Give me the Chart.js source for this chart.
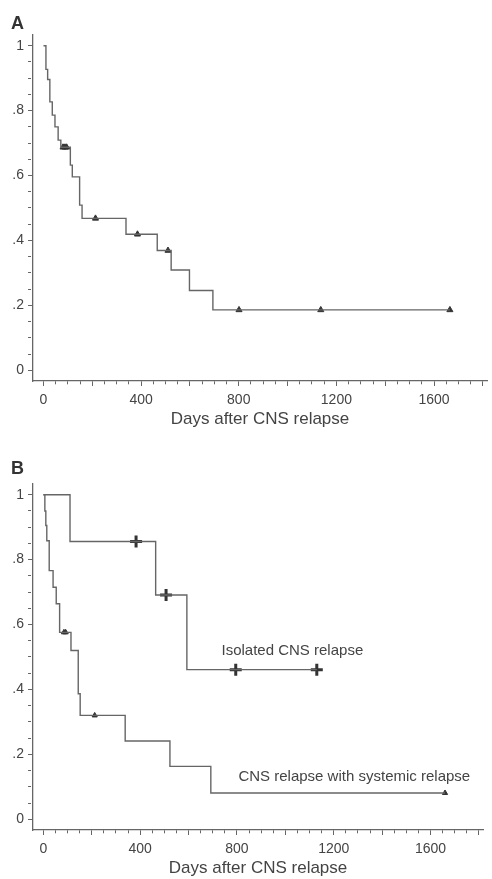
<!DOCTYPE html>
<html>
<head>
<meta charset="utf-8">
<script src="https://cdn.jsdelivr.net/npm/chart.js@4.4.1/dist/chart.umd.min.js"></script>
<style>
  html, body { margin: 0; padding: 0; background: #fff; }
  body { width: 492px; height: 879px; position: relative; overflow: hidden; font-family: "Liberation Sans", Arial, sans-serif; }
  .panel { position: absolute; left: 0; width: 492px; height: 430px; }
  .letter { position: absolute; left: 11px; font-weight: bold; font-size: 18px; color: #333; }
</style>
</head>
<body>
<div class="panel" style="top:0"><canvas id="chartA" width="492" height="430"></canvas></div>
<div class="letter" style="top:13px">A</div>
<div class="panel" style="top:449px"><canvas id="chartB" width="492" height="430"></canvas></div>
<div class="letter" style="top:458px">B</div>
<script>
// axis ticks
const xMajor = [0, 400, 800, 1200, 1600];
const yMajor = [0, 0.2, 0.4, 0.6, 0.8, 1];
const yMajorLabels = ['0', '.2', '.4', '.6', '.8', '1'];

// panel A - all patients (day of each step, survival after it)
const daysA = [0, 10, 17, 26, 36, 47, 60, 71, 110, 118, 148, 158, 338, 466, 523, 598, 694, 1665];
const survA = [1, 0.927, 0.896, 0.827, 0.786, 0.75, 0.709, 0.687, 0.632, 0.596, 0.509, 0.468, 0.419, 0.369, 0.309, 0.246, 0.186, 0.186];
const censorA = [80, 88, 95, 213, 385, 510, 801, 1136, 1665];

// panel B - isolated CNS relapse
const daysIso = [0, 110, 464, 593, 1130];
const survIso = [1, 0.856, 0.691, 0.461, 0.461];
const censorIso = [383, 507, 795, 1130];

// panel B - CNS relapse with systemic relapse
const daysSys = [0, 6, 10, 14, 24, 40, 53, 67, 114, 144, 152, 338, 523, 692, 1660];
const survSys = [1, 0.95, 0.905, 0.858, 0.766, 0.715, 0.664, 0.576, 0.52, 0.387, 0.32, 0.241, 0.163, 0.081, 0.081];
const censorSys = [85, 92, 212, 1660];

const FONT = '"Liberation Sans", Arial, sans-serif';
Chart.defaults.font.family = FONT;

function survivalAt(days, surv, t) {
    let s = surv[0];
    for (let i = 0; i < days.length; i++) {
        if (days[i] <= t) s = surv[i];
    }
    return s;
}

function curve(days, surv) {
    return {
        data: days.map((d, i) => ({x: d, y: surv[i]})),
        showLine: true,
        stepped: 'before',
        borderColor: '#666',
        borderWidth: 1.4,
        pointRadius: 0,
        fill: false,
    };
}

function censors(days, surv, times, style, radius, width) {
    return {
        data: times.map(t => ({x: t, y: survivalAt(days, surv, t)})),
        showLine: false,
        pointStyle: style,
        pointRadius: radius,
        pointBorderWidth: width,
        pointBackgroundColor: '#333',
        pointBorderColor: '#333',
    };
}

const curveLabels = {
    id: 'curveLabels',
    afterDatasetsDraw(chart, args, opts) {
        const {ctx, scales: {x, y}} = chart;
        ctx.save();
        ctx.font = '15px ' + FONT;
        ctx.fillStyle = '#444';
        ctx.textAlign = 'center';
        ctx.textBaseline = 'middle';
        (opts.items || []).forEach(it => {
            ctx.fillText(it.text, x.getPixelForValue(it.x), y.getPixelForValue(it.y));
        });
        ctx.restore();
    }
};

function makeChart(id, datasets, labels) {
    return new Chart(document.getElementById(id), {
        type: 'scatter',
        data: {datasets: datasets},
        plugins: [curveLabels],
        options: {
            responsive: false,
            animation: false,
            events: [],
            layout: {padding: {top: 35, right: 1, bottom: 0, left: 0}},
            plugins: {
                legend: {display: false},
                tooltip: {enabled: false},
                curveLabels: {items: labels},
            },
            scales: {
                x: {
                    type: 'linear',
                    min: -43,
                    max: 1817,
                    afterBuildTicks: s => {
                        s.ticks = [];
                        for (let v = 0; v <= 1800; v += 50) s.ticks.push({value: v});
                    },
                    afterFit: s => { s.height = 49; },
                    ticks: {
                        autoSkip: false,
                        maxRotation: 0,
                        padding: 6,
                        color: '#444',
                        font: {size: 14},
                        callback: v => xMajor.includes(v) ? String(v) : '',
                    },
                    grid: {
                        drawOnChartArea: false,
                        tickLength: 5,
                        tickColor: '#666',
                        tickWidth: 1,
                        tickBorderDash: c => (c.tick && c.tick.value % 200 === 0) ? [] : [3, 20],
                    },
                    border: {color: '#666', width: 1.3},
                    title: {
                        display: true,
                        text: 'Days after CNS relapse',
                        color: '#444',
                        font: {size: 17},
                        padding: {top: 0, bottom: 0},
                    },
                },
                y: {
                    type: 'linear',
                    min: -0.033,
                    max: 1.033,
                    afterBuildTicks: s => {
                        s.ticks = [];
                        for (let k = 0; k <= 20; k++) s.ticks.push({value: k / 20});
                    },
                    afterFit: s => { s.width = 33; },
                    ticks: {
                        autoSkip: false,
                        padding: 4,
                        color: '#444',
                        font: {size: 14},
                        callback: v => {
                            const i = yMajor.findIndex(m => Math.abs(m - v) < 1e-6);
                            return i >= 0 ? yMajorLabels[i] : '';
                        },
                    },
                    grid: {
                        drawOnChartArea: false,
                        tickLength: 5,
                        tickColor: '#666',
                        tickWidth: 1,
                        tickBorderDash: c => (c.tick && Math.round(c.tick.value * 20) % 4 === 0) ? [] : [3, 20],
                    },
                    border: {color: '#666', width: 1.3},
                },
            },
        },
    });
}

makeChart('chartA', [
    curve(daysA, survA),
    censors(daysA, survA, censorA, 'triangle', 3.5, 1),
], []);

makeChart('chartB', [
    curve(daysIso, survIso),
    curve(daysSys, survSys),
    censors(daysIso, survIso, censorIso, 'cross', 6, 3),
    censors(daysSys, survSys, censorSys, 'triangle', 3, 1),
], [
    {text: 'Isolated CNS relapse', x: 1029, y: 0.52},
    {text: 'CNS relapse with systemic relapse', x: 1285, y: 0.132},
]);
</script>
</body>
</html>
